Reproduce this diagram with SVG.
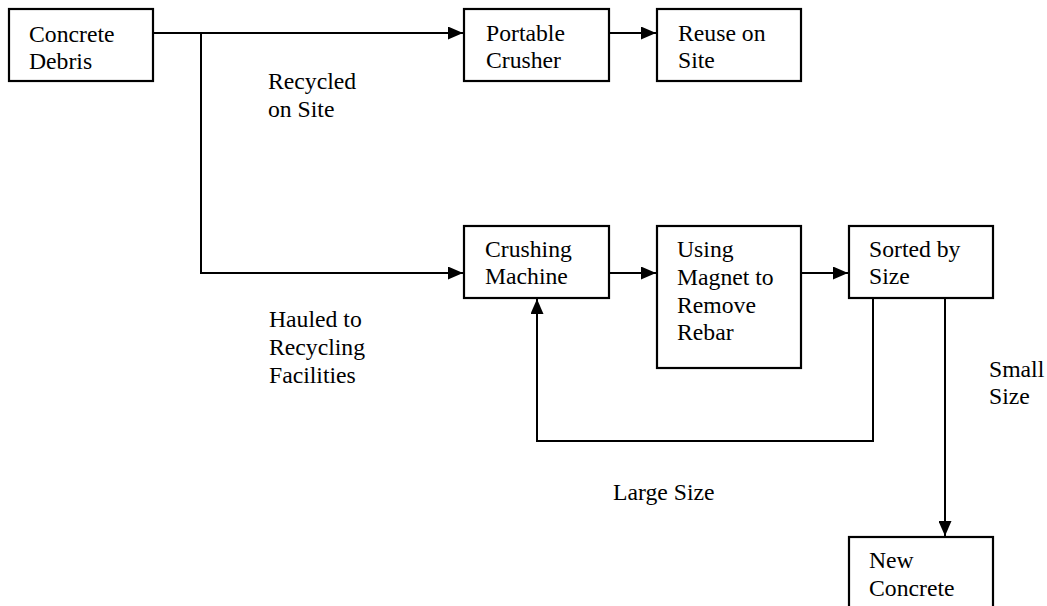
<svg xmlns="http://www.w3.org/2000/svg" width="1047" height="606" viewBox="0 0 1047 606" font-family="'Liberation Serif', 'DejaVu Serif', serif">
  <style>
    .box { fill: #ffffff; stroke: #000000; stroke-width: 2.2; }
    .wire { fill: none; stroke: #000000; stroke-width: 2; }
    .lbl { font-family: 'Liberation Serif', 'DejaVu Serif', serif; font-size: 23.7px; fill: #000000; }
  </style>
  <defs>
    <marker id="arrow" markerWidth="15" markerHeight="13" refX="15" refY="6.5" orient="auto" markerUnits="userSpaceOnUse">
      <path d="M0,0 L15,6.5 L0,13 Z" fill="#000000"/>
    </marker>
  </defs>

  <rect width="1047" height="606" fill="#ffffff"/>

  <!-- connectors -->
  <g id="connectors">
    <line class="wire" x1="153" y1="33" x2="463" y2="33" marker-end="url(#arrow)"/>
    <polyline class="wire" points="201,33 201,273 463,273" marker-end="url(#arrow)"/>
    <line class="wire" x1="609" y1="33" x2="656" y2="33" marker-end="url(#arrow)"/>
    <line class="wire" x1="609" y1="273" x2="656" y2="273" marker-end="url(#arrow)"/>
    <line class="wire" x1="801" y1="273" x2="848" y2="273" marker-end="url(#arrow)"/>
    <polyline class="wire" points="873,298 873,441 537,441 537,299" marker-end="url(#arrow)"/>
    <line class="wire" x1="945" y1="298" x2="945" y2="536" marker-end="url(#arrow)"/>
  </g>

  <!-- nodes -->
  <g id="concrete-debris">
    <rect class="box" x="9" y="9" width="144" height="72"/>
    <text class="lbl" x="29" y="42">Concrete</text>
    <text class="lbl" x="29" y="69">Debris</text>
  </g>
  <g id="portable-crusher">
    <rect class="box" x="464" y="9" width="145" height="72"/>
    <text class="lbl" x="486" y="41">Portable</text>
    <text class="lbl" x="486" y="68">Crusher</text>
  </g>
  <g id="reuse-on-site">
    <rect class="box" x="657" y="9" width="144" height="72"/>
    <text class="lbl" x="678" y="41">Reuse on</text>
    <text class="lbl" x="678" y="68">Site</text>
  </g>
  <g id="crushing-machine">
    <rect class="box" x="464" y="226" width="145" height="72"/>
    <text class="lbl" x="485" y="257">Crushing</text>
    <text class="lbl" x="485" y="284">Machine</text>
  </g>
  <g id="magnet">
    <rect class="box" x="657" y="226" width="144" height="142"/>
    <text class="lbl" x="677" y="257">Using</text>
    <text class="lbl" x="677" y="285">Magnet to</text>
    <text class="lbl" x="677" y="313">Remove</text>
    <text class="lbl" x="677" y="340">Rebar</text>
  </g>
  <g id="sorted-by-size">
    <rect class="box" x="849" y="226" width="144" height="72"/>
    <text class="lbl" x="869" y="257">Sorted by</text>
    <text class="lbl" x="869" y="284">Size</text>
  </g>
  <g id="new-concrete">
    <rect class="box" x="849" y="537" width="144" height="80"/>
    <text class="lbl" x="869" y="568">New</text>
    <text class="lbl" x="869" y="596">Concrete</text>
  </g>

  <!-- branch labels -->
  <g id="labels">
    <text class="lbl" x="268" y="89">Recycled</text>
    <text class="lbl" x="268" y="117">on Site</text>
    <text class="lbl" x="269" y="327">Hauled to</text>
    <text class="lbl" x="269" y="355">Recycling</text>
    <text class="lbl" x="269" y="383">Facilities</text>
    <text class="lbl" x="989" y="377">Small</text>
    <text class="lbl" x="989" y="404">Size</text>
    <text class="lbl" x="613" y="500">Large Size</text>
  </g>
</svg>
